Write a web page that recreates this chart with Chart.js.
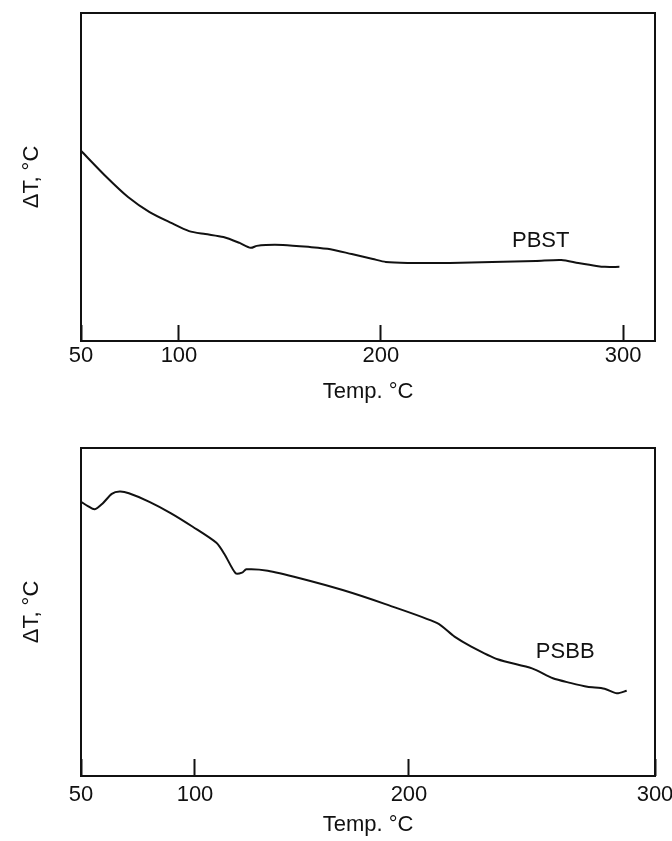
<!DOCTYPE html>
<html>
<head>
<meta charset="utf-8">
<script src="https://cdn.jsdelivr.net/npm/chart.js@4.4.1/dist/chart.umd.min.js"></script>
<style>
  body { margin: 0; background: #fff; }
  canvas { display: block; }
</style>
</head>
<body>
<canvas id="pbst" width="672" height="420"></canvas>
<canvas id="psbb" width="672" height="421"></canvas>
<script>
// ticks on the temperature axis
var tempTicks = [50, 100, 200, 300];

// PBST trace: temperature (C) and deflection (arbitrary units, 0-100)
var pbstTemp = [50, 63, 74, 85, 96, 105, 113, 122, 130, 135.5, 138.5, 143, 151.5, 164, 175, 185.5, 196, 202, 211, 228.5, 246, 264, 274.5, 281.5, 289, 292.5, 298.5];
var pbstDelta = [58.0, 50.0, 43.9, 39.3, 36.0, 33.5, 32.6, 31.7, 29.9, 28.4, 29.0, 29.3, 29.3, 28.7, 28.0, 26.5, 25.0, 24.1, 23.8, 23.8, 24.1, 24.4, 24.7, 23.8, 22.9, 22.6, 22.6];

// PSBB trace
var psbbTemp = [50, 53, 56, 59.5, 63.5, 67, 71, 80, 89.5, 99, 110, 114, 119, 122, 124, 134, 149, 169, 189, 211.5, 218.5, 225.5, 236, 250, 258.5, 265.5, 272.5, 279.5, 284.5, 288.5];
var psbbDelta = [83.6, 82.3, 81.3, 83.1, 86.0, 86.7, 86.2, 83.6, 80.1, 76.0, 71.1, 67.4, 61.8, 62.0, 63.0, 62.6, 60.3, 56.7, 52.4, 46.6, 42.5, 39.4, 35.6, 32.8, 29.8, 28.4, 27.2, 26.6, 25.2, 26.0];

Chart.defaults.font.family = "'Liberation Sans', Arial, sans-serif";
Chart.defaults.color = '#111';

// the recorder's temperature axis is not evenly spaced, so the x scale
// follows a few knots (value -> fraction of axis width) instead of one straight line
class BentScale extends Chart.LinearScale {
    getPixelForValue(value) {
        if (value === null || value === undefined) return NaN;
        var k = this.options.knots;
        var i = 1;
        while (i < k.length - 1 && value > k[i][0]) i++;
        var a = k[i - 1], b = k[i];
        return this.getPixelForDecimal(a[1] + (value - a[0]) / (b[0] - a[0]) * (b[1] - a[1]));
    }
    getValueForPixel(pixel) {
        var f = this.getDecimalForPixel(pixel);
        var k = this.options.knots;
        var i = 1;
        while (i < k.length - 1 && f > k[i][1]) i++;
        var a = k[i - 1], b = k[i];
        return a[0] + (f - a[1]) / (b[1] - a[1]) * (b[0] - a[0]);
    }
}
BentScale.id = 'bent';
Chart.register(BentScale);

// box round the plot area
var frame = {
    id: 'frame',
    afterDraw: function (chart) {
        var a = chart.chartArea, ctx = chart.ctx;
        ctx.save();
        ctx.strokeStyle = '#111';
        ctx.lineWidth = 2;
        ctx.strokeRect(a.left, a.top, a.right - a.left, a.bottom - a.top);
        ctx.restore();
    }
};

// curve name written next to the trace
var curveName = {
    id: 'curveName',
    afterDatasetsDraw: function (chart, args, opts) {
        var ctx = chart.ctx;
        ctx.save();
        ctx.font = "22px 'Liberation Sans', Arial, sans-serif";
        ctx.fillStyle = '#111';
        ctx.textAlign = 'center';
        ctx.textBaseline = 'middle';
        ctx.fillText(opts.text, chart.scales.x.getPixelForValue(opts.at[0]), chart.scales.y.getPixelForValue(opts.at[1]));
        ctx.restore();
    }
};

function drawTrace(id, temps, deltas, knots, xMax, name, nameAt, lay) {
    var ctx = document.getElementById(id).getContext('2d');
    return new Chart(ctx, {
        type: 'line',
        data: {
            datasets: [{
                label: name,
                data: temps.map(function (t, i) { return {x: t, y: deltas[i]}; }),
                borderColor: '#111',
                borderWidth: 2,
                pointRadius: 0,
                tension: 0.25,
                fill: false
            }]
        },
        options: {
            responsive: false,
            animation: false,
            layout: {padding: {top: lay.top, right: 17, left: 0, bottom: 0}},
            plugins: {
                legend: {display: false},
                tooltip: {enabled: false},
                curveName: {text: name, at: nameAt}
            },
            scales: {
                x: {
                    type: 'bent',
                    knots: knots,
                    min: 50,
                    max: xMax,
                    afterBuildTicks: function (scale) {
                        scale.ticks = tempTicks.map(function (v) { return {value: v}; });
                    },
                    afterFit: function (scale) {
                        scale.height = lay.xHeight;
                        scale.paddingLeft = 0;
                        scale.paddingRight = 0;
                    },
                    border: {display: false},
                    grid: {
                        drawOnChartArea: false,
                        drawTicks: true,
                        tickLength: -lay.tick,
                        tickColor: '#111',
                        tickWidth: 2
                    },
                    ticks: {
                        autoSkip: false,
                        maxRotation: 0,
                        padding: lay.tickPad,
                        font: {size: 22},
                        callback: function (v) { return v; }
                    },
                    title: {
                        display: true,
                        text: 'Temp. °C',
                        font: {size: 22},
                        padding: {top: 0, bottom: lay.titlePad}
                    }
                },
                y: {
                    min: 0,
                    max: 100,
                    afterFit: function (scale) { scale.width = 81; },
                    border: {display: false},
                    grid: {display: false},
                    ticks: {display: false},
                    title: {
                        display: true,
                        text: 'ΔT, °C',
                        font: {size: 22},
                        padding: {top: 19, bottom: 0}
                    }
                }
            }
        },
        plugins: [frame, curveName]
    });
}

drawTrace('pbst', pbstTemp, pbstDelta,
    [[50, 0], [100, 0.1707], [200, 0.5226], [300, 0.9443], [313.2, 1]], 313.2,
    'PBST', [266, 30.5],
    {top: 13, xHeight: 79, tick: 16, tickPad: 18, titlePad: 15});

drawTrace('psbb', psbbTemp, psbbDelta,
    [[50, 0], [100, 0.1986], [200, 0.5714], [300, 1]], 300,
    'PSBB', [263.5, 37.8],
    {top: 28, xHeight: 65, tick: 17, tickPad: 23, titlePad: 3});
</script>
</body>
</html>
